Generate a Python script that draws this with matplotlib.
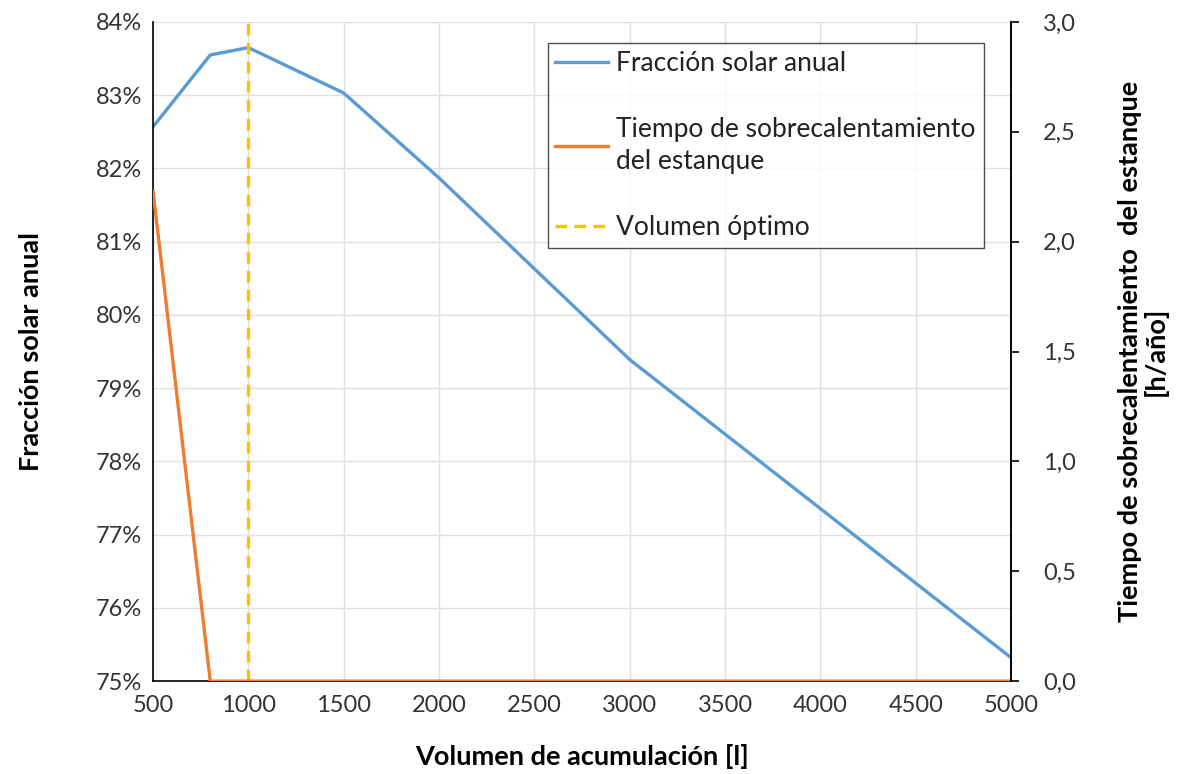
import matplotlib
matplotlib.use('Agg')
from matplotlib import pyplot as plt
from matplotlib.ticker import FuncFormatter, MultipleLocator

plt.rcParams['font.family'] = ['Lato', 'DejaVu Sans']

volumen = [500, 800, 1000, 1500, 2000, 3000, 5000]
fraccion = [82.57, 83.55, 83.65, 83.03, 81.87, 79.39, 75.32]  # %
sobrecal = [2.23, 0.0, 0.0, 0.0, 0.0, 0.0, 0.0]  # h/año
vol_optimo = 1000

blue, orange, gold = '#5B9BD5', '#ED7D31', '#FFC000'

fig = plt.figure(figsize=(11.81, 7.74), dpi=100)
ax = fig.add_axes([0.1296, 0.120, 0.7265, 0.8516])
ax2 = ax.twinx()

l1, = ax.plot(volumen, fraccion, color=blue, lw=2.4, label='Fracción solar anual')
l2, = ax2.plot(volumen, sobrecal, color=orange, lw=2.4,
               label='Tiempo de sobrecalentamiento\ndel estanque')
l3 = ax.axvline(vol_optimo, color=gold, lw=2.4, ls=(0, (3.5, 2.2)), label='Volumen óptimo')

ax.set_xlim(500, 5000)
ax.set_ylim(75, 84)
ax2.set_ylim(0, 3)
ax.xaxis.set_major_locator(MultipleLocator(500))
ax.yaxis.set_major_locator(MultipleLocator(1))
ax2.yaxis.set_major_locator(MultipleLocator(0.5))
ax.yaxis.set_major_formatter(FuncFormatter(lambda v, p: f'{v:.0f}%'))
ax2.yaxis.set_major_formatter(FuncFormatter(lambda v, p: f'{v:.1f}'.replace('.', ',')))

ax.grid(True, color='#e0e0e0', lw=1)
ax.set_axisbelow(True)
for a in (ax, ax2):
    a.spines['top'].set_visible(False)
    for s in a.spines.values():
        s.set_color('black')
        s.set_linewidth(1.2)
ax2.spines['left'].set_visible(False)
ax2.spines['bottom'].set_visible(False)

tick_font = dict(labelsize=17, colors='#333333')
ax.tick_params(axis='both', length=0, pad=8, **tick_font)
ax.tick_params(axis='x', pad=10)
ax2.tick_params(axis='y', length=6, width=1.2, pad=17, **tick_font)
ax2.tick_params(axis='y', color='black')

ax.set_xlabel('Volumen de acumulación [l]', fontsize=19.5, fontweight='bold', labelpad=20)
ax.set_ylabel('Fracción solar anual', fontsize=19.5, fontweight='bold', labelpad=38)
ax2.set_ylabel('Tiempo de sobrecalentamiento  del estanque\n[h/año]', fontsize=19.5,
               fontweight='bold', labelpad=30, linespacing=1.05)

leg = ax.legend(handles=[l1, l2, l3], loc='upper right', bbox_to_anchor=(0.968, 0.968),
                prop={'size': 19}, frameon=True, fancybox=False,
                edgecolor='#222222', labelspacing=1.55, handlelength=2.0,
                handletextpad=0.3, borderpad=0.3, borderaxespad=0)
leg.get_frame().set_linewidth(1.0)
for t in leg.get_texts():
    t.set_color('#222222')
    t.set_linespacing(1.35)

fig.savefig('out.png', dpi=100)
